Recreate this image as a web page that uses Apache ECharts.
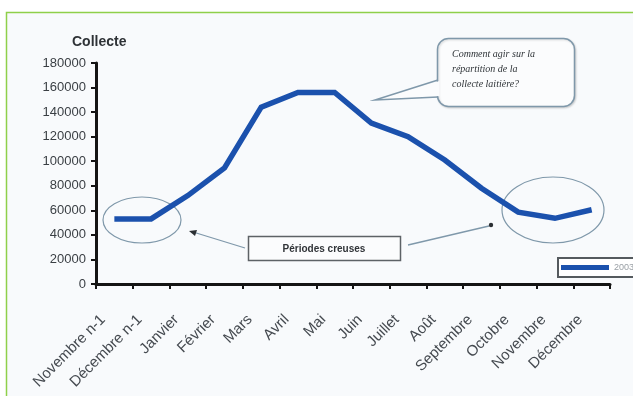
<!DOCTYPE html>
<html>
<head>
<meta charset="utf-8">
<script src="https://cdn.jsdelivr.net/npm/echarts@6/dist/echarts.min.js"></script>
<style>
  html, body { margin: 0; padding: 0; background: #ffffff; }
  #chart { width: 633px; height: 396px; }
</style>
</head>
<body>
<div id="chart"></div>
<script>
// Monthly milk collection, from November of the previous year to December
const months = ['Novembre n-1', 'Décembre n-1', 'Janvier', 'Février', 'Mars', 'Avril', 'Mai',
  'Juin', 'Juillet', 'Août', 'Septembre', 'Octobre', 'Novembre', 'Décembre'];
const collecte = [53000, 53000, 72000, 94500, 144000, 156000, 156000,
  131000, 120000, 101000, 78000, 58500, 53500, 60500];
const seriesName = '2003';
const yTicks = { min: 0, max: 180000, interval: 20000 };

const blue = '#1b51ad';
const annot = '#7f98aa';

const chart = echarts.init(document.getElementById('chart'), null, { renderer: 'canvas' });

chart.setOption({
  animation: false,
  backgroundColor: '#ffffff',
  title: {
    text: 'Collecte',
    left: 67, top: 30,
    textStyle: { fontFamily: 'Liberation Sans', fontSize: 14, fontWeight: 'bold', color: '#2e3236' }
  },
  grid: { left: 96, right: 23, top: 63, bottom: 112, containLabel: false },
  legend: {
    data: [seriesName],
    left: 558, top: 258,
    orient: 'horizontal',
    icon: 'rect',
    itemWidth: 48, itemHeight: 5,
    padding: [5, 30, 5, 3],
    borderColor: '#555a5e', borderWidth: 2,
    backgroundColor: '#ffffff',
    textStyle: { fontFamily: 'Liberation Sans', fontSize: 9, color: '#9aa0a6' }
  },
  xAxis: {
    type: 'category',
    data: months,
    boundaryGap: true,
    axisLine: { lineStyle: { color: '#141414', width: 3 } },
    axisTick: { show: true, length: 5, lineStyle: { color: '#141414', width: 2 } },
    axisLabel: {
      rotate: 45, interval: 0, margin: 22,
      padding: [0, 16, 0, 0],
      fontFamily: 'Liberation Sans', fontSize: 15, color: '#454a50'
    },
    splitLine: { show: false }
  },
  yAxis: {
    type: 'value',
    min: yTicks.min, max: yTicks.max, interval: yTicks.interval,
    axisLine: { show: true, lineStyle: { color: '#141414', width: 3 } },
    axisTick: { show: true, length: 5, lineStyle: { color: '#141414', width: 2 } },
    axisLabel: {
      margin: 10, fontFamily: 'Liberation Sans', fontSize: 13, color: '#3a3f44',
      formatter: function (v) { return String(v); }
    },
    splitLine: { show: false }
  },
  series: [{
    name: seriesName,
    type: 'line',
    data: collecte,
    symbol: 'none',
    lineStyle: { color: blue, width: 5.5, join: 'miter' },
    itemStyle: { color: blue },
    z: 5
  }],
  graphic: [
    // framed panel
    { type: 'rect', z: -10, shape: { x: 6.5, y: 12.5, width: 640, height: 400 },
      style: { fill: '#f8fafc', stroke: '#8fd04a', lineWidth: 1.5 }, silent: true },
    // low-season ellipses
    { type: 'ellipse', z: 3, shape: { cx: 142, cy: 220, rx: 39, ry: 23 },
      style: { fill: null, stroke: annot, lineWidth: 1.2 } },
    { type: 'ellipse', z: 3, shape: { cx: 553, cy: 210, rx: 51, ry: 33 },
      style: { fill: null, stroke: annot, lineWidth: 1.2 } },
    // "Périodes creuses" label box
    { type: 'rect', z: 4, shape: { x: 248.5, y: 236.5, width: 152, height: 24 },
      style: { fill: '#fbfcfd', stroke: '#5d6266', lineWidth: 1.5 } },
    { type: 'text', z: 5, x: 324, y: 249,
      style: { text: 'Périodes creuses', fontFamily: 'Liberation Sans', fontSize: 10, fontWeight: 'bold',
        fill: '#303438', align: 'center', verticalAlign: 'middle' } },
    // pointers towards both ellipses
    { type: 'line', z: 4, shape: { x1: 245, y1: 248, x2: 193, y2: 232 },
      style: { stroke: annot, lineWidth: 1.3 } },
    { type: 'polygon', z: 4, shape: { points: [[189, 231], [197, 230], [195, 236]] },
      style: { fill: '#2b2f33' } },
    { type: 'line', z: 4, shape: { x1: 408, y1: 245, x2: 489, y2: 226 },
      style: { stroke: annot, lineWidth: 1.3 } },
    { type: 'circle', z: 4, shape: { cx: 491, cy: 225, r: 2.2 },
      style: { fill: '#2b2f33' } },
    // speech bubble
    { type: 'rect', z: 4, shape: { x: 437.5, y: 38.5, width: 137, height: 68, r: 11 },
      style: { fill: '#fbfcfd', stroke: annot, lineWidth: 1.5, shadowColor: 'rgba(0,0,0,0.15)', shadowBlur: 2, shadowOffsetX: 1, shadowOffsetY: 1 } },
    { type: 'polygon', z: 5, shape: { points: [[439.5, 81], [376, 100], [439.5, 96]] },
      style: { fill: '#fbfcfd' } },
    { type: 'polyline', z: 6, shape: { points: [[438, 80], [375, 100], [438, 97]] },
      style: { stroke: annot, lineWidth: 1.5, fill: null } },
    { type: 'text', z: 6, x: 452, y: 47,
      style: { text: 'Comment agir sur la\nrépartition de la\ncollecte laitière?',
        fontFamily: 'Liberation Serif', fontStyle: 'italic', fontSize: 10, lineHeight: 15,
        fill: '#2f3438' } }
  ]
});
</script>
</body>
</html>
